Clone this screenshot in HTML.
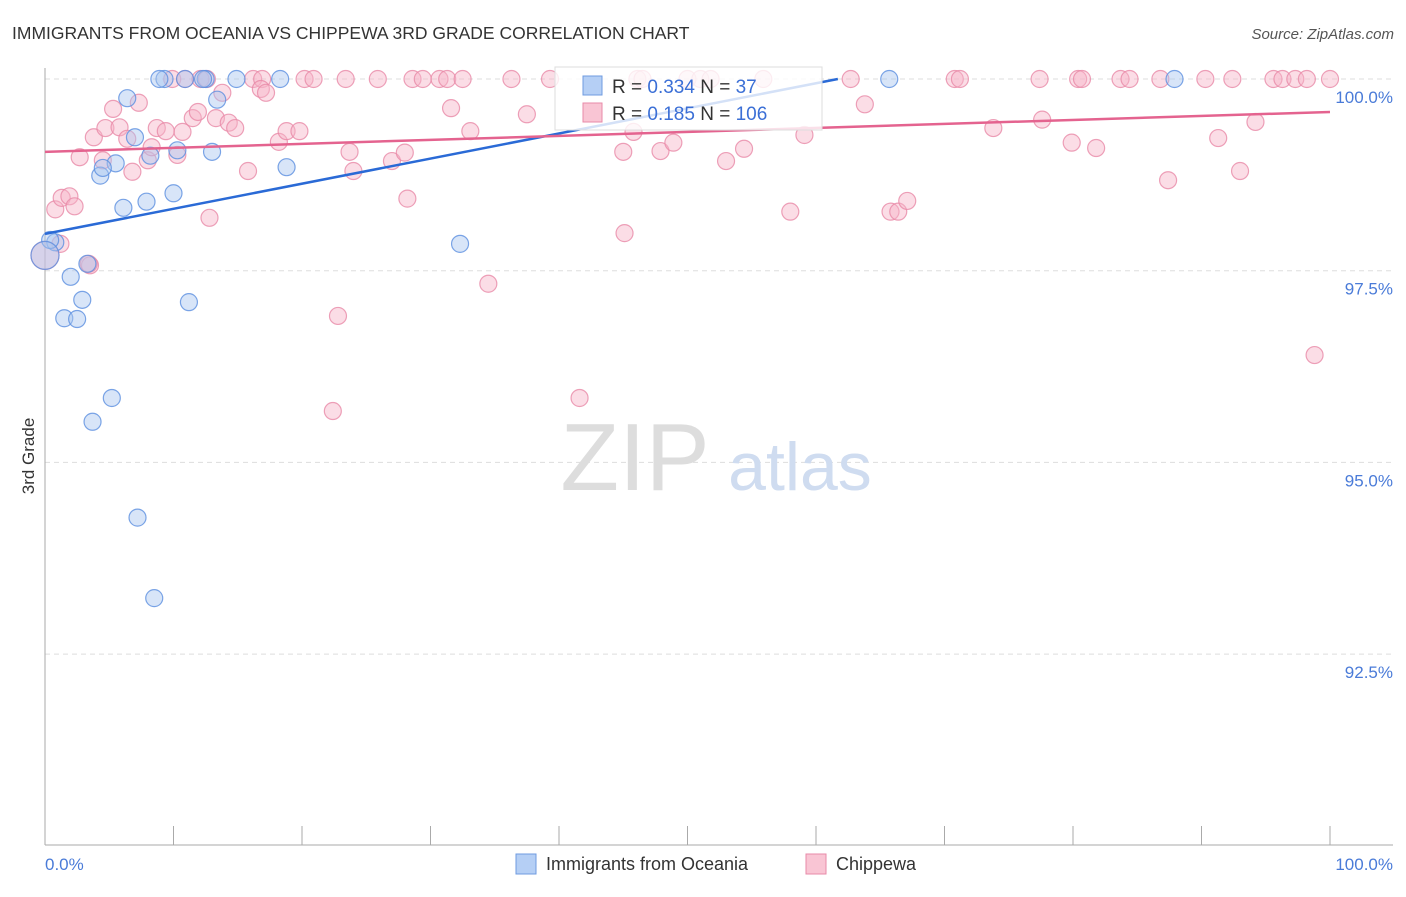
<!DOCTYPE html>
<html><head><meta charset="utf-8"><style>
body{margin:0;background:#fff;font-family:"Liberation Sans",sans-serif;}
svg text{font-family:"Liberation Sans",sans-serif;}
</style></head><body>
<svg width="1406" height="892">
<text x="12" y="39" font-size="17.5" fill="#333">IMMIGRANTS FROM OCEANIA VS CHIPPEWA 3RD GRADE CORRELATION CHART</text>
<text x="1394" y="39" font-size="15" fill="#555" font-style="italic" text-anchor="end">Source: ZipAtlas.com</text>
<g id="grid"></g>
<text x="635" y="490" font-size="96" fill="#ddd" font-family="Liberation Serif" text-anchor="middle">ZIP</text>
<text x="800" y="490" font-size="68" fill="#cfdcf0" text-anchor="middle">atlas</text>
<g id="marks"></g>
<text x="34" y="456" font-size="17" fill="#333" transform="rotate(-90 34 456)" text-anchor="middle">3rd Grade</text>
<text x="45" y="870" font-size="17" fill="#4a7bd8">0.0%</text>
<text x="1393" y="870" font-size="17" fill="#4a7bd8" text-anchor="end">100.0%</text>
<g>
<rect x="555" y="67" width="267" height="63" fill="#fff" fill-opacity="0.8" stroke="#ddd"/>
<rect x="583" y="76" width="19" height="19" fill="#b5cff5" stroke="#6f9be0"/>
<text x="612" y="93" font-size="19" fill="#333">R = <tspan fill="#3b6fd6">0.334</tspan>   N = <tspan fill="#3b6fd6"> 37</tspan></text>
<rect x="583" y="103" width="19" height="19" fill="#f9c5d4" stroke="#e88aa8"/>
<text x="612" y="120" font-size="19" fill="#333">R =  <tspan fill="#3b6fd6">0.185</tspan>   N = <tspan fill="#3b6fd6">106</tspan></text>
</g>
<g>
<rect x="516" y="854" width="20" height="20" fill="#b5cff5" stroke="#6f9be0"/>
<text x="546" y="870" font-size="18" fill="#333">Immigrants from Oceania</text>
<rect x="806" y="854" width="20" height="20" fill="#f9c5d4" stroke="#e88aa8"/>
<text x="836" y="870" font-size="18" fill="#333">Chippewa</text>
</g>
</svg>
<script>
const yTicks=[100,97.5,95,92.5];
const yTickLabels=["100.0%","97.5%","95.0%","92.5%"];
const xTicks=[0,10,20,30,40,50,60,70,80,90,100];
const blueX=[9.3,8.9,10.9,12.5,12.3,14.9,18.3,65.7,87.9,6.4,13.4,7.0,5.5,8.2,10.3,13.0,4.3,4.5,18.8,6.1,7.9,10.0,0.8,0.4,3.3,32.3,2.0,2.9,11.2,1.5,2.5,5.2,3.7,7.2,8.5,0];
const blueY=[100,100,100,100,100,100,100,100,100,99.75,99.73,99.24,98.9,99.0,99.07,99.05,98.74,98.84,98.85,98.32,98.4,98.51,97.87,97.9,97.59,97.85,97.42,97.12,97.09,96.88,96.87,95.84,95.53,94.28,93.23,97.70];
const pinkX=[9.9,10.9,12.1,12.6,16.2,16.9,20.2,20.9,23.4,25.9,28.6,29.4,30.7,31.3,32.5,36.3,39.3,46.1,46.5,50.0,51.0,51.8,55.9,62.7,70.8,71.2,77.4,80.4,80.7,83.7,84.4,86.8,90.3,92.4,95.6,96.3,97.3,98.2,100,
0.8,1.3,1.9,2.3,2.7,3.5,3.8,4.5,4.7,5.3,5.8,6.4,6.8,7.3,8.0,8.3,8.7,9.4,10.3,10.7,11.5,11.9,12.8,13.3,13.8,14.3,14.8,15.8,16.8,17.2,18.2,18.8,19.8,22.8,22.4,23.7,24.0,27.0,28.0,28.2,31.6,33.1,34.5,37.5,41.6,45.0,45.1,45.8,47.9,48.9,53.0,54.4,58.0,59.1,63.8,65.8,66.4,67.1,73.8,77.6,79.9,81.8,87.4,91.3,93.0,94.2,98.8,1.2,3.4,0];
const pinkY=[100,100,100,100,100,100,100,100,100,100,100,100,100,100,100,100,100,100,100,100,100,100,100,100,100,100,100,100,100,100,100,100,100,100,100,100,100,100,100,
98.30,98.45,98.47,98.34,98.98,97.57,99.24,98.94,99.36,99.61,99.37,99.22,98.79,99.69,98.94,99.11,99.36,99.32,99.01,99.31,99.49,99.57,98.19,99.49,99.82,99.43,99.36,98.80,99.87,99.82,99.18,99.32,99.32,96.91,95.67,99.05,98.80,98.93,99.04,98.44,99.62,99.32,97.33,99.54,95.84,99.05,97.99,99.31,99.06,99.17,98.93,99.09,98.27,99.27,99.67,98.27,98.27,98.41,99.36,99.47,99.17,99.10,98.68,99.23,98.80,99.44,96.40,97.85,97.59,97.70];
const blueTrend=[[0,97.98],[61.7,100]];
const pinkTrend=[[0,99.05],[100,99.57]];
const sx=v=>45+v*12.85;
const sy=v=>79+(100-v)*76.68;
const NS="http://www.w3.org/2000/svg";
const grid=document.getElementById('grid'),marks=document.getElementById('marks');
function mk(p,tag,at){const e=document.createElementNS(NS,tag);for(const k in at)e.setAttribute(k,at[k]);p.appendChild(e);return e;}
yTicks.forEach((t,i)=>{
 const l=mk(grid,'line',{x1:45,x2:1393,y1:sy(t),y2:sy(t),stroke:'#ddd','stroke-dasharray':'5,4'});
 
 
 const tx=mk(grid,'text',{x:1393,y:sy(t)+24,'font-size':17,fill:'#4a7bd8','text-anchor':'end'});
 tx.textContent=yTickLabels[i];
 
 
});
const ax=mk(grid,'line',{x1:45,x2:45,y1:68,y2:845,stroke:'#aaa'});


const bx=mk(grid,'line',{x1:45,x2:1393,y1:845,y2:845,stroke:'#aaa'});


xTicks.forEach(t=>{
 const l=mk(grid,'line',{x1:sx(t),x2:sx(t),y1:826,y2:845,stroke:'#aaa'});
 
 
});
function pts(X,Y,fill,stroke,name){X.forEach((x,i)=>{
 const big=(x===0);
 const c=mk(marks,'circle',{cx:sx(x),cy:sy(Y[i]),r:big?14:8.5,fill:fill,'fill-opacity':0.45,stroke:stroke,'stroke-opacity':0.8,'stroke-width':1.2});
 
 
});}
pts(pinkX,pinkY,'#f7b3c8','#e88aa8','chippewa-point');
pts(blueX,blueY,'#a9c6f0','#5b8fe0','oceania-point');
const t1=mk(marks,'line',{x1:sx(blueTrend[0][0]),y1:sy(blueTrend[0][1]),x2:sx(blueTrend[1][0]),y2:sy(blueTrend[1][1]),stroke:'#2a6ad6','stroke-width':2.5});


const t2=mk(marks,'line',{x1:sx(pinkTrend[0][0]),y1:sy(pinkTrend[0][1]),x2:sx(pinkTrend[1][0]),y2:sy(pinkTrend[1][1]),stroke:'#e4638f','stroke-width':2.5});


</script>
</body></html>
